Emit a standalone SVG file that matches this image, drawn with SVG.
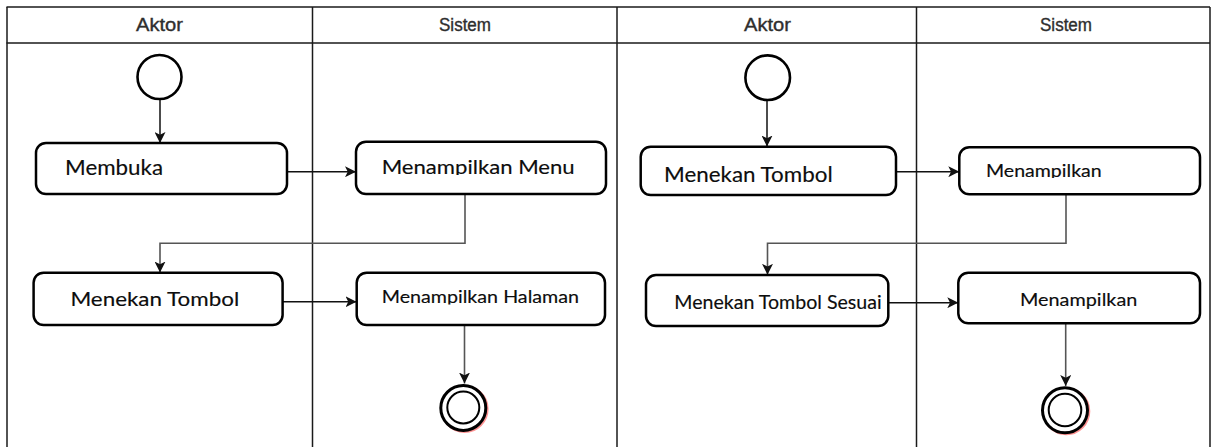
<svg xmlns="http://www.w3.org/2000/svg" width="1215" height="447" viewBox="0 0 1215 447">
  <style>
    .lane { stroke: #1a1a1a; stroke-width: 1.5; fill: none; }
    .head { font-family: "Liberation Sans", Arial, sans-serif; font-size: 17.5px; fill: #2e2e2e; stroke: #2e2e2e; stroke-width: 0.35; text-anchor: middle; }
    .box { fill: #ffffff; stroke: #000000; stroke-width: 2.5; }
    .label { font-family: Lato, "Open Sans", sans-serif; fill: #0d0d0d; stroke: #0d0d0d; stroke-width: 0.15; }
    .flow { stroke: #111111; stroke-width: 1.5; fill: none; marker-end: url(#arrow); }
    .flow-soft { stroke: #555555; stroke-width: 1.6; fill: none; marker-end: url(#arrow); }
    .start { fill: #ffffff; stroke: #000000; stroke-width: 2.6; }
    .end-outer { fill: #ffffff; stroke: #000000; stroke-width: 3; }
    .end-inner { fill: #ffffff; stroke: #000000; stroke-width: 2; }
    .end-glow { fill: none; stroke: #ff3b3b; stroke-width: 2; opacity: 0.55; }
  </style>
  <defs>
    <marker id="arrow" viewBox="0 0 10 10" refX="10" refY="5" markerWidth="11" markerHeight="11" markerUnits="userSpaceOnUse" orient="auto">
      <path d="M0,0 L10,5 L0,10 L2.5,5 Z" fill="#111111"/>
    </marker>
    <clipPath id="clip-menu"><rect x="370" y="140" width="230" height="35"/></clipPath>
    <clipPath id="clip-halaman"><rect x="370" y="272" width="230" height="32.5"/></clipPath>
    <clipPath id="clip-tr"><rect x="970" y="146" width="220" height="32"/></clipPath>
  </defs>

  <!-- swimlane table -->
  <g id="lanes">
    <rect x="0" y="0" width="1215" height="447" fill="#ffffff"/>
    <line class="lane" x1="6.5" y1="7" x2="1210" y2="7"/>
    <line class="lane" x1="6.5" y1="43" x2="1210" y2="43"/>
    <line class="lane" x1="7" y1="7" x2="7" y2="447"/>
    <line class="lane" x1="312.5" y1="7" x2="312.5" y2="447"/>
    <line class="lane" x1="617" y1="7" x2="617" y2="447"/>
    <line class="lane" x1="916.5" y1="7" x2="916.5" y2="447"/>
    <line class="lane" x1="1210" y1="7" x2="1210" y2="447"/>
    <text class="head" x="159.5" y="31" textLength="47" lengthAdjust="spacingAndGlyphs">Aktor</text>
    <text class="head" x="465" y="31" textLength="52" lengthAdjust="spacingAndGlyphs">Sistem</text>
    <text class="head" x="767.5" y="31" textLength="47" lengthAdjust="spacingAndGlyphs">Aktor</text>
    <text class="head" x="1066" y="31" textLength="52" lengthAdjust="spacingAndGlyphs">Sistem</text>
  </g>

  <!-- connectors -->
  <g id="connectors">
    <line class="flow" x1="160" y1="100" x2="160" y2="143"/>
    <line class="flow" x1="287" y1="171.7" x2="356" y2="171.7"/>
    <polyline class="flow-soft" points="465,194 465,243.3 160,243.3 160,272.5"/>
    <line class="flow" x1="282.7" y1="301.7" x2="356.5" y2="301.7"/>
    <line class="flow-soft" x1="464.5" y1="325" x2="464.5" y2="383.5"/>

    <line class="flow" x1="767" y1="101" x2="767" y2="146.5"/>
    <line class="flow" x1="896" y1="171.7" x2="959.3" y2="171.7"/>
    <polyline class="flow-soft" points="1066,194.3 1066,243.3 767.5,243.3 767.5,274.8"/>
    <line class="flow" x1="888.3" y1="302.7" x2="958.3" y2="302.7"/>
    <line class="flow-soft" x1="1065.7" y1="323.3" x2="1065.7" y2="386"/>
  </g>

  <!-- left activity -->
  <g id="start-1">
    <circle class="start" cx="159.5" cy="77" r="22"/>
  </g>
  <g id="membuka">
    <rect class="box" x="36" y="143" width="251" height="51" rx="10"/>
    <text class="label" x="65" y="175" font-size="22" textLength="98" lengthAdjust="spacingAndGlyphs">Membuka</text>
  </g>
  <g id="menampilkan-menu">
    <rect class="box" x="356" y="141.7" width="250" height="52.3" rx="10"/>
    <text class="label" x="381.7" y="174" font-size="19.5" textLength="193" lengthAdjust="spacingAndGlyphs" clip-path="url(#clip-menu)">Menampilkan Menu</text>
  </g>
  <g id="menekan-tombol-1">
    <rect class="box" x="33.6" y="272.7" width="249" height="52.3" rx="10"/>
    <text class="label" x="70.4" y="305.7" font-size="19.5" textLength="168.8" lengthAdjust="spacingAndGlyphs">Menekan Tombol</text>
  </g>
  <g id="menampilkan-halaman">
    <rect class="box" x="356.7" y="272.7" width="248.3" height="52.3" rx="10"/>
    <text class="label" x="381.7" y="303.3" font-size="17.5" textLength="197.3" lengthAdjust="spacingAndGlyphs" clip-path="url(#clip-halaman)">Menampilkan Halaman</text>
  </g>
  <g id="end-1">
    <circle class="end-glow" cx="464.6" cy="409" r="23"/>
    <circle class="end-outer" cx="463.3" cy="408" r="22.5"/>
    <circle class="end-inner" cx="463.3" cy="407.5" r="16"/>
  </g>

  <!-- right activity -->
  <g id="start-2">
    <circle class="start" cx="767.7" cy="77.7" r="22.3"/>
  </g>
  <g id="menekan-tombol-2">
    <rect class="box" x="640.7" y="146.7" width="255.3" height="48.3" rx="10"/>
    <text class="label" x="664" y="181.7" font-size="21" textLength="168.7" lengthAdjust="spacingAndGlyphs">Menekan Tombol</text>
  </g>
  <g id="menampilkan-1">
    <rect class="box" x="959.3" y="147.3" width="240.7" height="47" rx="10"/>
    <text class="label" x="986" y="176.7" font-size="16.5" textLength="115.7" lengthAdjust="spacingAndGlyphs" clip-path="url(#clip-tr)">Menampilkan</text>
  </g>
  <g id="menekan-tombol-sesuai">
    <rect class="box" x="646" y="275" width="242.3" height="51" rx="10"/>
    <text class="label" x="674.3" y="309.3" font-size="18.5" textLength="207.4" lengthAdjust="spacingAndGlyphs">Menekan Tombol Sesuai</text>
  </g>
  <g id="menampilkan-2">
    <rect class="box" x="958.3" y="272.7" width="241.7" height="50.6" rx="10"/>
    <text class="label" x="1020" y="306" font-size="17.7" textLength="117.3" lengthAdjust="spacingAndGlyphs">Menampilkan</text>
  </g>
  <g id="end-2">
    <circle class="end-glow" cx="1066.3" cy="411.3" r="23"/>
    <circle class="end-outer" cx="1065" cy="410.3" r="22.5"/>
    <circle class="end-inner" cx="1065" cy="410" r="16.3"/>
  </g>
</svg>
